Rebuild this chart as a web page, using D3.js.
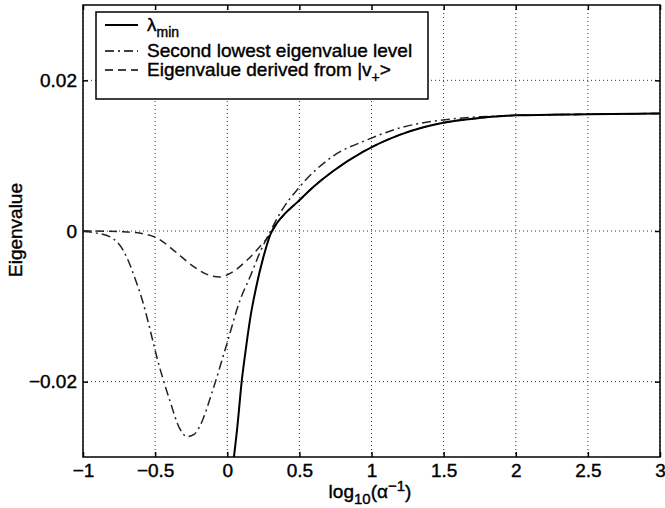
<!DOCTYPE html>
<html>
<head>
<meta charset="utf-8">
<script src="https://cdn.jsdelivr.net/npm/d3@7"></script>
<style>
    body { margin: 0; background: #fff; }
    text { font-family: "Liberation Sans", Arial, sans-serif; font-size: 19px; fill: #000; }
</style>
</head>
<body>
<svg id="chart" width="665" height="508"></svg>
<script>
// values: [log10(1/alpha), eigenvalue]
let lambdaMin = [
    [0.04, -0.031], [0.07, -0.026], [0.10, -0.020], [0.13, -0.0155], [0.16, -0.0115],
    [0.20, -0.0075], [0.25, -0.0035], [0.30, -0.0004], [0.35, 0.0012], [0.40, 0.0023],
    [0.49, 0.0039], [0.60, 0.0059], [0.73, 0.0079], [0.94, 0.0105], [1.20, 0.0128],
    [1.48, 0.0143], [1.75, 0.0150], [2.0, 0.01535], [2.5, 0.0155], [3.0, 0.0156]
];

let secondLowest = [
    [-1.0, 0], [-0.93, -0.0002], [-0.81, -0.0008], [-0.72, -0.0026], [-0.63, -0.0068],
    [-0.59, -0.0091], [-0.535, -0.0131], [-0.49, -0.0166], [-0.40, -0.0224], [-0.33, -0.0262],
    [-0.28, -0.0273], [-0.23, -0.0270], [-0.19, -0.0259], [-0.10, -0.0211], [0.0, -0.0148],
    [0.09, -0.0091], [0.16, -0.0060], [0.23, -0.0027], [0.30, 0.0], [0.38, 0.0028],
    [0.49, 0.0056], [0.73, 0.0099], [0.97, 0.0121], [1.20, 0.0137], [1.48, 0.0147],
    [2.0, 0.01535], [2.5, 0.0155], [3.0, 0.0156]
];

let derivedVplus = [
    [-1.0, 0], [-0.85, -0.00002], [-0.72, -0.0001], [-0.60, -0.0003], [-0.49, -0.0009],
    [-0.35, -0.0029], [-0.235, -0.0047], [-0.12, -0.0059], [-0.05, -0.0061], [0.04, -0.0054],
    [0.13, -0.0040], [0.23, -0.0020], [0.30, -0.0004], [0.35, 0.0012], [0.40, 0.0023],
    [0.49, 0.0039], [0.60, 0.0059], [0.73, 0.0079], [0.94, 0.0105], [1.20, 0.0128],
    [1.48, 0.0143], [1.75, 0.0150], [2.0, 0.01535], [2.5, 0.0155], [3.0, 0.0156]
];

let xTicks = [-1, -0.5, 0, 0.5, 1, 1.5, 2, 2.5, 3];
let xTickLabels = ["\u22121", "\u22120.5", "0", "0.5", "1", "1.5", "2", "2.5", "3"];
let yTicks = [-0.02, 0, 0.02];
let yTickLabels = ["\u22120.02", "0", "0.02"];

let legendItems = [
    { label: "\u03bb", sub: "min", dash: null },
    { label: "Second lowest eigenvalue level", sub: null, dash: "9,4,2,4" },
    { label: "Eigenvalue derived from |v", sub: "+", after: ">", dash: "8,5" }
];

let plotLeft = 83, plotRight = 660, plotTop = 5, plotBottom = 457;

let svg = d3.select("#chart");

let x = d3.scaleLinear().domain([-1, 3]).range([plotLeft, plotRight]);
let y = d3.scaleLinear().domain([-0.03, 0.03]).range([plotBottom, plotTop]);

svg.append("defs").append("clipPath")
    .attr("id", "plot")
    .append("rect")
    .attr("x", plotLeft).attr("y", plotTop)
    .attr("width", plotRight - plotLeft).attr("height", plotBottom - plotTop);

// dotted grid
svg.append("g")
    .selectAll("line")
    .data(xTicks)
    .enter()
    .append("line")
    .attr("x1", d => x(d)).attr("x2", d => x(d))
    .attr("y1", plotTop).attr("y2", plotBottom)
    .attr("stroke", "#333")
    .attr("stroke-dasharray", "1,3");

svg.append("g")
    .selectAll("line")
    .data(yTicks)
    .enter()
    .append("line")
    .attr("x1", plotLeft).attr("x2", plotRight)
    .attr("y1", d => y(d)).attr("y2", d => y(d))
    .attr("stroke", "#333")
    .attr("stroke-dasharray", "1,3");

// axes, ticks pointing inwards
svg.append("g")
    .attr("transform", "translate(0," + plotBottom + ")")
    .call(d3.axisBottom(x).tickValues(xTicks).tickSizeInner(-5).tickSizeOuter(0).tickPadding(7)
        .tickFormat((d, i) => xTickLabels[i]));

svg.append("g")
    .attr("transform", "translate(" + plotLeft + ",0)")
    .call(d3.axisLeft(y).tickValues(yTicks).tickSizeInner(-5).tickSizeOuter(0).tickPadding(6)
        .tickFormat((d, i) => yTickLabels[i]));

svg.append("g")
    .attr("transform", "translate(0," + plotTop + ")")
    .call(d3.axisTop(x).tickValues(xTicks).tickSizeInner(-5).tickSizeOuter(0).tickFormat(""));

svg.append("g")
    .attr("transform", "translate(" + plotRight + ",0)")
    .call(d3.axisRight(y).tickValues(yTicks).tickSizeInner(-5).tickSizeOuter(0).tickFormat(""));

svg.selectAll(".domain").remove();
svg.selectAll(".tick line").attr("stroke", "#000").attr("stroke-width", 1.5);
svg.selectAll(".tick text")
    .attr("font-family", null).attr("font-size", null)
    .style("stroke", "#000").style("stroke-width", 0.4);

svg.append("rect")
    .attr("x", plotLeft).attr("y", plotTop)
    .attr("width", plotRight - plotLeft).attr("height", plotBottom - plotTop)
    .attr("fill", "none")
    .attr("stroke", "#000")
    .attr("stroke-width", 1.5);

// curves
let line = d3.line()
    .x(d => x(d[0]))
    .y(d => y(d[1]))
    .curve(d3.curveMonotoneX);

let curves = svg.append("g").attr("clip-path", "url(#plot)");

curves.append("path")
    .attr("d", line(derivedVplus))
    .attr("fill", "none")
    .attr("stroke", "#222")
    .attr("stroke-width", 1.5)
    .attr("stroke-dasharray", "8,5");

curves.append("path")
    .attr("d", line(secondLowest))
    .attr("fill", "none")
    .attr("stroke", "#222")
    .attr("stroke-width", 1.5)
    .attr("stroke-dasharray", "9,4,2,4");

curves.append("path")
    .attr("d", line(lambdaMin))
    .attr("fill", "none")
    .attr("stroke", "#000")
    .attr("stroke-width", 2);

// axis labels
let xLabel = svg.append("text")
    .attr("x", 370)
    .attr("y", 498)
    .attr("text-anchor", "middle")
    .style("stroke", "#000").style("stroke-width", 0.4);
xLabel.append("tspan").text("log");
xLabel.append("tspan").attr("dy", 6).attr("font-size", 15).text("10");
xLabel.append("tspan").attr("dy", -6).text("(\u03b1");
xLabel.append("tspan").attr("dy", -7).attr("font-size", 15).text("\u22121");
xLabel.append("tspan").attr("dy", 7).text(")");

svg.append("text")
    .attr("transform", "translate(22,230) rotate(-90)")
    .attr("text-anchor", "middle")
    .style("stroke", "#000").style("stroke-width", 0.4)
    .text("Eigenvalue");

// legend
let legend = svg.append("g");

legend.append("rect")
    .attr("x", 96).attr("y", 12)
    .attr("width", 332).attr("height", 87)
    .attr("fill", "#fff")
    .attr("stroke", "#000")
    .attr("stroke-width", 1.5);

let rowY = [31, 57, 76];

legendItems.forEach(function (d, i) {
    legend.append("line")
        .attr("x1", 105).attr("x2", 138)
        .attr("y1", rowY[i] - 6).attr("y2", rowY[i] - 6)
        .attr("stroke", "#000")
        .attr("stroke-width", d.dash ? 1.5 : 2)
        .attr("stroke-dasharray", d.dash);
    let t = legend.append("text")
        .attr("x", 147)
        .attr("y", rowY[i])
        .style("stroke", "#000").style("stroke-width", 0.4);
    t.append("tspan").text(d.label);
    if (d.sub) t.append("tspan").attr("dy", 6).attr("font-size", 14).text(d.sub);
    if (d.after) t.append("tspan").attr("dy", -6).text(d.after);
});
</script>
</body>
</html>
